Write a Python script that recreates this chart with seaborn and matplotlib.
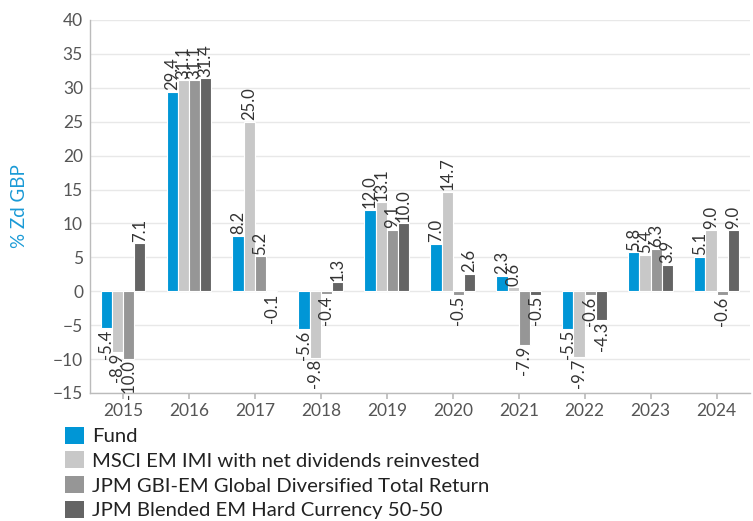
import matplotlib
matplotlib.use("Agg")
import matplotlib.pyplot as plt
import seaborn as sns
import pandas as pd
from matplotlib.patches import Patch

years = ["2015", "2016", "2017", "2018", "2019", "2020", "2021", "2022", "2023", "2024"]
series_names = ["Fund", "MSCI EM IMI with net dividends reinvested",
                "JPM GBI-EM Global Diversified Total Return",
                "JPM Blended EM Hard Currency 50-50"]
fund = [-5.4, 29.4, 8.2, -5.6, 12.0, 7.0, 2.3, -5.5, 5.8, 5.1]
msci = [-8.9, 31.1, 25.0, -9.8, 13.1, 14.7, 0.6, -9.7, 5.4, 9.0]
gbi = [-10.0, 31.1, 5.2, -0.4, 9.1, -0.5, -7.9, -0.6, 6.3, -0.6]
blended = [7.1, 31.4, -0.1, 1.3, 10.0, 2.6, -0.5, -4.3, 3.9, 9.0]
colors = ["#0096d6", "#c8c8c8", "#969696", "#646464"]

rows = []
for name, vals in zip(series_names, [fund, msci, gbi, blended]):
    for y, v in zip(years, vals):
        rows.append({"Year": y, "Series": name, "Value": v})
df = pd.DataFrame(rows)

sns.set_theme(style="white")
plt.rcParams['font.family'] = ['Lato', 'DejaVu Sans']

fig = plt.figure(figsize=(7.53, 5.21), dpi=100)
ax = fig.add_axes([0.1195, 0.2457, 0.876, 0.716])

sns.barplot(data=df, x="Year", y="Value", hue="Series", palette=colors,
            width=0.68, edgecolor="white", linewidth=0.8, ax=ax, legend=False,
            saturation=1)

for cont in ax.containers:
    ax.bar_label(cont, fmt="%.1f", rotation=90, padding=1, fontsize=12, color="#333333")

ax.set_ylim(-15, 40)
ax.set_yticks(range(-15, 41, 5))
ax.set_xlim(-0.5, 9.5)
ax.yaxis.grid(True, color="#e8e8e8", linewidth=1)
ax.set_axisbelow(True)
for s in ["top", "right"]:
    ax.spines[s].set_visible(False)
for s in ["left", "bottom"]:
    ax.spines[s].set_color("#bbbbbb")
    ax.spines[s].set_linewidth(1)
ax.tick_params(axis="both", labelsize=12.5, colors="#555555")
ax.tick_params(axis="x", length=4, color="#bbbbbb", bottom=True)
ax.tick_params(axis="y", length=0, pad=5)
ax.set_xlabel("")
ax.set_ylabel("% Zd GBP", color="#1a9ad6", fontsize=13.5, labelpad=18)

handles = [Patch(facecolor=c, edgecolor="none") for c in colors]
fig.legend(handles, series_names, loc="upper left", bbox_to_anchor=(0.086, 0.181),
           frameon=False, fontsize=14.6, handlelength=0.95, handleheight=0.9,
           handletextpad=0.4, labelspacing=0.31, borderaxespad=0, borderpad=0,
           labelcolor="#222222")

fig.savefig("out.png", dpi=100)
